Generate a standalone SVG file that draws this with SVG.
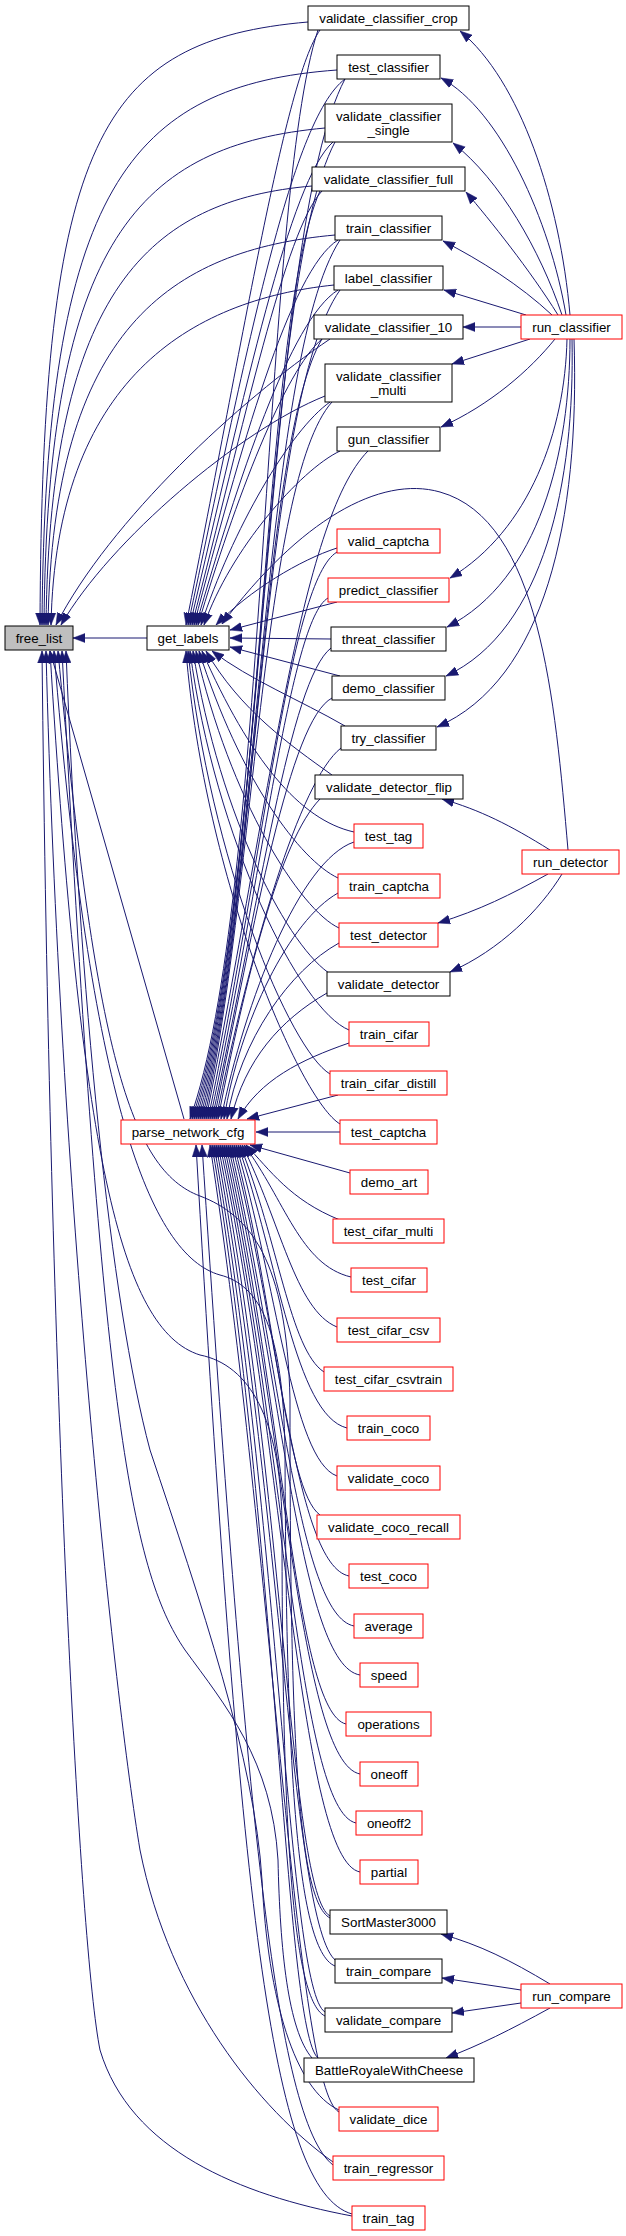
<svg xmlns="http://www.w3.org/2000/svg" width="626" height="2236" viewBox="0 0 626 2236">
<style>
.e{fill:none;stroke:#191970;stroke-width:1;marker-end:url(#ah)}
rect{fill:#fff;stroke:#000;stroke-width:1}
.r rect{stroke:#f00}
.g rect{fill:#bfbfbf}
text{font-family:"Liberation Sans",Arial,sans-serif;font-size:13.33px;text-anchor:middle;fill:#000}
</style>
<defs>
<marker id="ah" viewBox="0 0 12 10" refX="12" refY="5" markerWidth="12" markerHeight="10" orient="auto" markerUnits="userSpaceOnUse"><path d="M0,0.5 L12,5 L0,9.5 z" fill="#191970" stroke="#191970" stroke-width="0.5"/></marker>
</defs>
<rect x="0" y="0" width="626" height="2236" style="fill:#fff;stroke:none"/>
<g id="edges">
<path class="e" d="M147,638 L73,638"/>
<path class="e" d="M184,1119 L50,651"/>
<path class="e" d="M308,22 C100,40 42,140 40,625"/>
<path class="e" d="M337,70 C130,85 45,190 42,625"/>
<path class="e" d="M325,128 C140,145 47,240 44,625"/>
<path class="e" d="M312,186 C150,200 50,290 46,625"/>
<path class="e" d="M335,235 C170,250 53,330 48,625"/>
<path class="e" d="M334,285 C190,300 56,380 51,625"/>
<path class="e" d="M330,339 C240,400 110,520 56,625"/>
<path class="e" d="M325,396 C240,430 110,540 61,625"/>
<path class="e" d="M330,1918 C295,1900 290,1700 290,1400 C287,1260 250,1215 200,1196 C130,1170 95,1050 58,651"/>
<path class="e" d="M335,1966 C295,1950 286,1750 285,1450 C283,1330 260,1285 220,1275 C150,1255 90,1100 54,651"/>
<path class="e" d="M325,2016 C290,2000 282,1800 282,1520 C280,1420 250,1365 200,1355 C120,1330 80,1150 50,651"/>
<path class="e" d="M312,2058 C288,2030 280,1950 278,1860 C272,1760 225,1705 185,1650 C130,1570 100,1400 62,651"/>
<path class="e" d="M339,2110 C295,2090 268,2000 262,1880 C255,1760 200,1600 150,1450 C110,1300 80,1000 66,651"/>
<path class="e" d="M333,2162 C260,2110 170,2000 140,1850 C115,1700 60,1200 46,651"/>
<path class="e" d="M352,2216 C240,2195 130,2150 100,2050 C80,1950 50,1400 42,651"/>
<path class="e" d="M320,30 C285,80 245,330 186,625"/>
<path class="e" d="M345,79 C290,120 245,360 188,625"/>
<path class="e" d="M333,142 C290,180 245,390 190,625"/>
<path class="e" d="M322,191 C285,230 245,420 192,625"/>
<path class="e" d="M338,240 C290,270 240,450 194,625"/>
<path class="e" d="M338,290 C290,320 238,480 196,625"/>
<path class="e" d="M322,339 C285,370 235,500 198,625"/>
<path class="e" d="M330,402 C290,430 232,530 201,625"/>
<path class="e" d="M340,451 C300,470 230,550 204,625"/>
<path class="e" d="M337,548 C300,560 250,590 216,625"/>
<path class="e" d="M568,850 C555,700 540,520 440,492 C380,475 300,520 222,624"/>
<path class="e" d="M337,602 L230,630"/>
<path class="e" d="M331,639 L230,638"/>
<path class="e" d="M340,676 L230,647"/>
<path class="e" d="M345,726 C300,700 250,680 212,651"/>
<path class="e" d="M332,775 C290,745 240,710 206,651"/>
<path class="e" d="M354,832 C300,820 250,760 202,651"/>
<path class="e" d="M338,878 C300,860 240,780 199,651"/>
<path class="e" d="M339,928 C300,910 230,800 196,651"/>
<path class="e" d="M332,975 C290,950 220,820 193,651"/>
<path class="e" d="M349,1030 C300,1010 215,840 190,651"/>
<path class="e" d="M330,1074 C290,1050 210,860 188,651"/>
<path class="e" d="M340,1124 C300,1100 205,880 186,651"/>
<path class="e" d="M318,30 C262,200 268,900 190,1119"/>
<path class="e" d="M345,79 C265,230 266,900 192,1119"/>
<path class="e" d="M335,142 C262,280 264,900 194,1119"/>
<path class="e" d="M320,191 C262,320 262,900 196,1119"/>
<path class="e" d="M340,240 C262,360 260,900 198,1119"/>
<path class="e" d="M340,290 C262,400 258,900 200,1119"/>
<path class="e" d="M322,339 C262,440 256,900 202,1119"/>
<path class="e" d="M332,402 C262,480 254,900 204,1119"/>
<path class="e" d="M368,451 C300,520 270,800 206,1119"/>
<path class="e" d="M337,552 C290,580 265,850 208,1119"/>
<path class="e" d="M328,598 C290,620 262,880 210,1119"/>
<path class="e" d="M331,648 C290,680 260,900 212,1119"/>
<path class="e" d="M332,698 C290,720 255,920 214,1119"/>
<path class="e" d="M341,748 C300,780 250,950 216,1119"/>
<path class="e" d="M320,799 C280,840 245,980 218,1119"/>
<path class="e" d="M354,842 C300,860 245,1000 221,1119"/>
<path class="e" d="M338,893 C290,920 240,1020 224,1119"/>
<path class="e" d="M339,943 C290,970 240,1040 227,1119"/>
<path class="e" d="M327,993 C280,1020 245,1060 231,1119"/>
<path class="e" d="M349,1043 C300,1060 260,1080 238,1119"/>
<path class="e" d="M338,1095 L247,1119"/>
<path class="e" d="M340,1132 L256,1132"/>
<path class="e" d="M350,1173 L250,1145"/>
<path class="e" d="M340,1220 C290,1200 270,1170 246,1145"/>
<path class="e" d="M351,1277 C300,1265 285,1200 244,1145"/>
<path class="e" d="M337,1327 C295,1310 280,1220 242,1145"/>
<path class="e" d="M324,1372 C290,1350 278,1240 240,1145"/>
<path class="e" d="M347,1428 C295,1415 278,1260 238,1145"/>
<path class="e" d="M337,1476 C292,1460 276,1280 236,1145"/>
<path class="e" d="M320,1515 C285,1490 275,1300 234,1145"/>
<path class="e" d="M349,1576 C295,1565 280,1330 232,1145"/>
<path class="e" d="M354,1626 C298,1615 280,1360 230,1145"/>
<path class="e" d="M360,1675 C300,1665 282,1380 228,1145"/>
<path class="e" d="M346,1724 C295,1712 283,1400 226,1145"/>
<path class="e" d="M360,1774 C300,1762 284,1420 224,1145"/>
<path class="e" d="M356,1823 C298,1810 285,1440 222,1145"/>
<path class="e" d="M360,1872 C300,1860 286,1460 220,1145"/>
<path class="e" d="M330,1916 C290,1895 284,1480 218,1145"/>
<path class="e" d="M338,1962 C292,1940 282,1500 216,1145"/>
<path class="e" d="M325,2012 C288,1990 280,1520 214,1145"/>
<path class="e" d="M318,2058 C285,2030 278,1540 212,1145"/>
<path class="e" d="M339,2112 C295,2090 274,1560 210,1145"/>
<path class="e" d="M333,2165 C275,2120 245,1800 202,1145"/>
<path class="e" d="M352,2214 C270,2190 240,1900 196,1145"/>
<path class="e" d="M570,315 C560,200 520,80 460,31"/>
<path class="e" d="M566,315 C550,220 500,110 441,78"/>
<path class="e" d="M562,315 C540,250 500,180 453,143"/>
<path class="e" d="M558,315 C530,270 490,220 466,192"/>
<path class="e" d="M552,315 C520,285 480,260 443,241"/>
<path class="e" d="M526,315 L444,290"/>
<path class="e" d="M521,327 L463,327"/>
<path class="e" d="M530,339 L452,364"/>
<path class="e" d="M555,339 C530,370 490,405 441,427"/>
<path class="e" d="M567,339 C565,430 530,530 450,578"/>
<path class="e" d="M570,339 C570,450 540,580 447,627"/>
<path class="e" d="M572,339 C575,480 545,630 446,676"/>
<path class="e" d="M574,339 C580,520 545,680 437,727"/>
<path class="e" d="M550,850 C510,825 480,810 442,799"/>
<path class="e" d="M548,874 C510,895 480,910 438,923"/>
<path class="e" d="M562,874 C540,910 500,950 450,972"/>
<path class="e" d="M550,1984 C510,1960 480,1945 441,1934"/>
<path class="e" d="M521,1990 L442,1978"/>
<path class="e" d="M521,2003 L452,2013"/>
<path class="e" d="M550,2008 C510,2030 480,2045 446,2058"/>
</g>
<g id="n-free_list" class="g"><rect x="5" y="626" width="68" height="24"/><text x="39" y="642.5">free_list</text></g>
<g id="n-get_labels"><rect x="147" y="626" width="82" height="24"/><text x="188" y="642.5">get_labels</text></g>
<g id="n-parse_network_cfg" class="r"><rect x="121" y="1120" width="134" height="24"/><text x="188" y="1136.5">parse_network_cfg</text></g>
<g id="n-validate_classifier_crop"><rect x="308" y="6" width="161" height="24"/><text x="388.5" y="22.5">validate_classifier_crop</text></g>
<g id="n-test_classifier"><rect x="337" y="55" width="103" height="24"/><text x="388.5" y="71.5">test_classifier</text></g>
<g id="n-validate_classifier_single"><rect x="325" y="104" width="127" height="38"/><text x="388.5" y="121">validate_classifier</text><text x="388.5" y="134.5">_single</text></g>
<g id="n-validate_classifier_full"><rect x="312" y="167" width="153" height="24"/><text x="388.5" y="183.5">validate_classifier_full</text></g>
<g id="n-train_classifier"><rect x="335" y="216" width="107" height="24"/><text x="388.5" y="232.5">train_classifier</text></g>
<g id="n-label_classifier"><rect x="334" y="266" width="109" height="24"/><text x="388.5" y="282.5">label_classifier</text></g>
<g id="n-validate_classifier_10"><rect x="314" y="315" width="149" height="24"/><text x="388.5" y="331.5">validate_classifier_10</text></g>
<g id="n-validate_classifier_multi"><rect x="325" y="364" width="127" height="38"/><text x="388.5" y="381">validate_classifier</text><text x="388.5" y="394.5">_multi</text></g>
<g id="n-gun_classifier"><rect x="337" y="427" width="103" height="24"/><text x="388.5" y="443.5">gun_classifier</text></g>
<g id="n-valid_captcha" class="r"><rect x="337" y="529" width="103" height="24"/><text x="388.5" y="545.5">valid_captcha</text></g>
<g id="n-predict_classifier" class="r"><rect x="328" y="578" width="121" height="24"/><text x="388.5" y="594.5">predict_classifier</text></g>
<g id="n-threat_classifier"><rect x="331" y="627" width="115" height="24"/><text x="388.5" y="643.5">threat_classifier</text></g>
<g id="n-demo_classifier"><rect x="332" y="676" width="113" height="24"/><text x="388.5" y="692.5">demo_classifier</text></g>
<g id="n-try_classifier"><rect x="341" y="726" width="95" height="24"/><text x="388.5" y="742.5">try_classifier</text></g>
<g id="n-validate_detector_flip"><rect x="315" y="775" width="148" height="24"/><text x="389" y="791.5">validate_detector_flip</text></g>
<g id="n-test_tag" class="r"><rect x="354" y="824" width="69" height="24"/><text x="388.5" y="840.5">test_tag</text></g>
<g id="n-train_captcha" class="r"><rect x="338" y="874" width="102" height="24"/><text x="389" y="890.5">train_captcha</text></g>
<g id="n-test_detector" class="r"><rect x="339" y="923" width="99" height="24"/><text x="388.5" y="939.5">test_detector</text></g>
<g id="n-validate_detector"><rect x="327" y="972" width="123" height="24"/><text x="388.5" y="988.5">validate_detector</text></g>
<g id="n-train_cifar" class="r"><rect x="349" y="1022" width="80" height="24"/><text x="389" y="1038.5">train_cifar</text></g>
<g id="n-train_cifar_distill" class="r"><rect x="330" y="1071" width="117" height="24"/><text x="388.5" y="1087.5">train_cifar_distill</text></g>
<g id="n-test_captcha" class="r"><rect x="340" y="1120" width="97" height="24"/><text x="388.5" y="1136.5">test_captcha</text></g>
<g id="n-demo_art" class="r"><rect x="350" y="1170" width="78" height="24"/><text x="389" y="1186.5">demo_art</text></g>
<g id="n-test_cifar_multi" class="r"><rect x="333" y="1219" width="111" height="24"/><text x="388.5" y="1235.5">test_cifar_multi</text></g>
<g id="n-test_cifar" class="r"><rect x="351" y="1268" width="76" height="24"/><text x="389" y="1284.5">test_cifar</text></g>
<g id="n-test_cifar_csv" class="r"><rect x="337" y="1318" width="103" height="24"/><text x="388.5" y="1334.5">test_cifar_csv</text></g>
<g id="n-test_cifar_csvtrain" class="r"><rect x="324" y="1367" width="129" height="24"/><text x="388.5" y="1383.5">test_cifar_csvtrain</text></g>
<g id="n-train_coco" class="r"><rect x="347" y="1416" width="83" height="24"/><text x="388.5" y="1432.5">train_coco</text></g>
<g id="n-validate_coco" class="r"><rect x="337" y="1466" width="103" height="24"/><text x="388.5" y="1482.5">validate_coco</text></g>
<g id="n-validate_coco_recall" class="r"><rect x="317" y="1515" width="143" height="24"/><text x="388.5" y="1531.5">validate_coco_recall</text></g>
<g id="n-test_coco" class="r"><rect x="349" y="1564" width="79" height="24"/><text x="388.5" y="1580.5">test_coco</text></g>
<g id="n-average" class="r"><rect x="354" y="1614" width="69" height="24"/><text x="388.5" y="1630.5">average</text></g>
<g id="n-speed" class="r"><rect x="360" y="1663" width="58" height="24"/><text x="389" y="1679.5">speed</text></g>
<g id="n-operations" class="r"><rect x="346" y="1712" width="85" height="24"/><text x="388.5" y="1728.5">operations</text></g>
<g id="n-oneoff" class="r"><rect x="360" y="1762" width="58" height="24"/><text x="389" y="1778.5">oneoff</text></g>
<g id="n-oneoff2" class="r"><rect x="356" y="1811" width="66" height="24"/><text x="389" y="1827.5">oneoff2</text></g>
<g id="n-partial" class="r"><rect x="360" y="1860" width="58" height="24"/><text x="389" y="1876.5">partial</text></g>
<g id="n-SortMaster3000"><rect x="330" y="1910" width="117" height="24"/><text x="388.5" y="1926.5">SortMaster3000</text></g>
<g id="n-train_compare"><rect x="335" y="1959" width="107" height="24"/><text x="388.5" y="1975.5">train_compare</text></g>
<g id="n-validate_compare"><rect x="325" y="2008" width="127" height="24"/><text x="388.5" y="2024.5">validate_compare</text></g>
<g id="n-BattleRoyaleWithCheese"><rect x="304" y="2058" width="170" height="24"/><text x="389" y="2074.5">BattleRoyaleWithCheese</text></g>
<g id="n-validate_dice" class="r"><rect x="339" y="2107" width="99" height="24"/><text x="388.5" y="2123.5">validate_dice</text></g>
<g id="n-train_regressor" class="r"><rect x="333" y="2156" width="111" height="24"/><text x="388.5" y="2172.5">train_regressor</text></g>
<g id="n-train_tag" class="r"><rect x="352" y="2206" width="73" height="24"/><text x="388.5" y="2222.5">train_tag</text></g>
<g id="n-run_classifier" class="r"><rect x="521" y="315" width="101" height="24"/><text x="571.5" y="331.5">run_classifier</text></g>
<g id="n-run_detector" class="r"><rect x="522" y="850" width="97" height="24"/><text x="570.5" y="866.5">run_detector</text></g>
<g id="n-run_compare" class="r"><rect x="521" y="1984" width="101" height="24"/><text x="571.5" y="2000.5">run_compare</text></g>
</svg>
